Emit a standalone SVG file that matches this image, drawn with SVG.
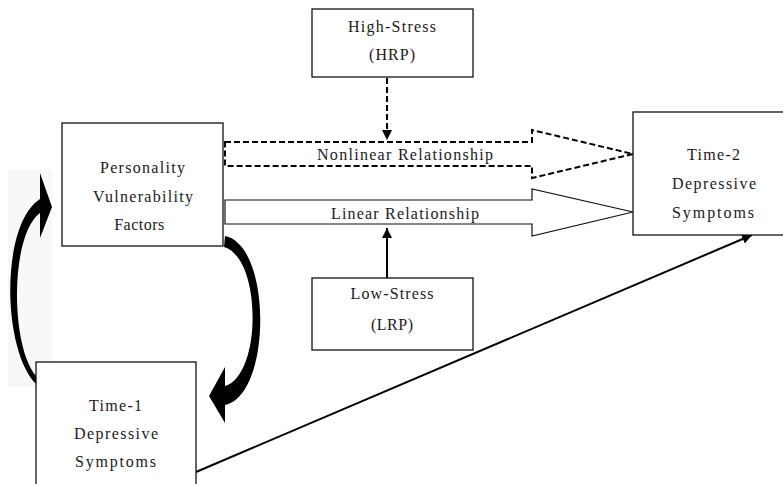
<svg xmlns="http://www.w3.org/2000/svg" width="783" height="484" viewBox="0 0 783 484">
<style>
.box{fill:#fff;stroke:#111;stroke-width:1.3}
.t{font-family:"Liberation Serif","Times New Roman",serif;font-size:16px;fill:#1a1a1a;text-anchor:middle}
.solid{fill:none;stroke:#000;stroke-width:2}
.dash{fill:none;stroke:#000;stroke-width:2;stroke-dasharray:6 3}
.fat{fill:#fff;stroke:#111;stroke-width:1.2}
.fatd{fill:#fff;stroke:#000;stroke-width:2;stroke-dasharray:6 3}
.curve{fill:#000;stroke:none}
</style>
<defs>
<marker id="ah" viewBox="0 0 10 10" refX="10" refY="5" markerWidth="10" markerHeight="10" markerUnits="userSpaceOnUse" orient="auto">
<path d="M0,0 L10,5 L0,10 z" fill="#000"/>
</marker>
</defs>
<rect x="8" y="170" width="44" height="217" fill="#f8f8f8"/>
<g id="connectors">
<polygon class="fatd" points="225,142 532,142 532,130 633,154 532,178 532,166 225,166"/>
<polygon class="fat" points="225,200 532,200 532,189 633,212 532,236 532,224 225,224"/>
<line class="dash" x1="387" y1="78" x2="387" y2="140" marker-end="url(#ah)"/>
<line class="solid" x1="387" y1="278" x2="387" y2="228" marker-end="url(#ah)"/>
<line class="solid" x1="196" y1="472" x2="752" y2="235" marker-end="url(#ah)"/>
<path class="curve" d="M36,384 C2,350 0,225 40,199 L40,173 L52,207 L40,238 L40,213 C10,235 10,345 36,376 Z"/>
<path class="curve" d="M225,236 C272,245 272,395 225,405 L225,423 L209,396 L225,367 L225,386 C262,375 262,258 224,247 Z"/>
</g>
<g id="high-stress">
<rect class="box" x="312" y="9" width="161" height="68"/>
<text class="t" x="392" y="32" textLength="88" lengthAdjust="spacing">High-Stress</text>
<text class="t" x="392" y="60" textLength="46" lengthAdjust="spacing">(HRP)</text>
</g>
<g id="low-stress">
<rect class="box" x="312" y="278" width="161" height="72"/>
<text class="t" x="392" y="299" textLength="83" lengthAdjust="spacing">Low-Stress</text>
<text class="t" x="392" y="330" textLength="42" lengthAdjust="spacing">(LRP)</text>
</g>
<g id="personality">
<rect class="box" x="62" y="123" width="161" height="123"/>
<text class="t" x="142.5" y="173" textLength="85" lengthAdjust="spacing">Personality</text>
<text class="t" x="143" y="202" textLength="100" lengthAdjust="spacing">Vulnerability</text>
<text class="t" x="139.5" y="230" letter-spacing="0.5">Factors</text>
</g>
<g id="time1">
<rect class="box" x="36" y="362" width="160" height="140"/>
<text class="t" x="115.5" y="411" textLength="53" lengthAdjust="spacing">Time-1</text>
<text class="t" x="116" y="439" textLength="84" lengthAdjust="spacing">Depressive</text>
<text class="t" x="115.5" y="467" textLength="81" lengthAdjust="spacing">Symptoms</text>
</g>
<g id="time2">
<rect class="box" x="633" y="112" width="170" height="123"/>
<text class="t" x="713.5" y="160" textLength="53" lengthAdjust="spacing">Time-2</text>
<text class="t" x="714" y="189" textLength="84" lengthAdjust="spacing">Depressive</text>
<text class="t" x="713" y="218" textLength="82" lengthAdjust="spacing">Symptoms</text>
</g>
<g id="labels">
<text class="t" x="405" y="160" textLength="176" lengthAdjust="spacing">Nonlinear Relationship</text>
<text class="t" x="405" y="219" textLength="148" lengthAdjust="spacing">Linear Relationship</text>
</g>
</svg>
